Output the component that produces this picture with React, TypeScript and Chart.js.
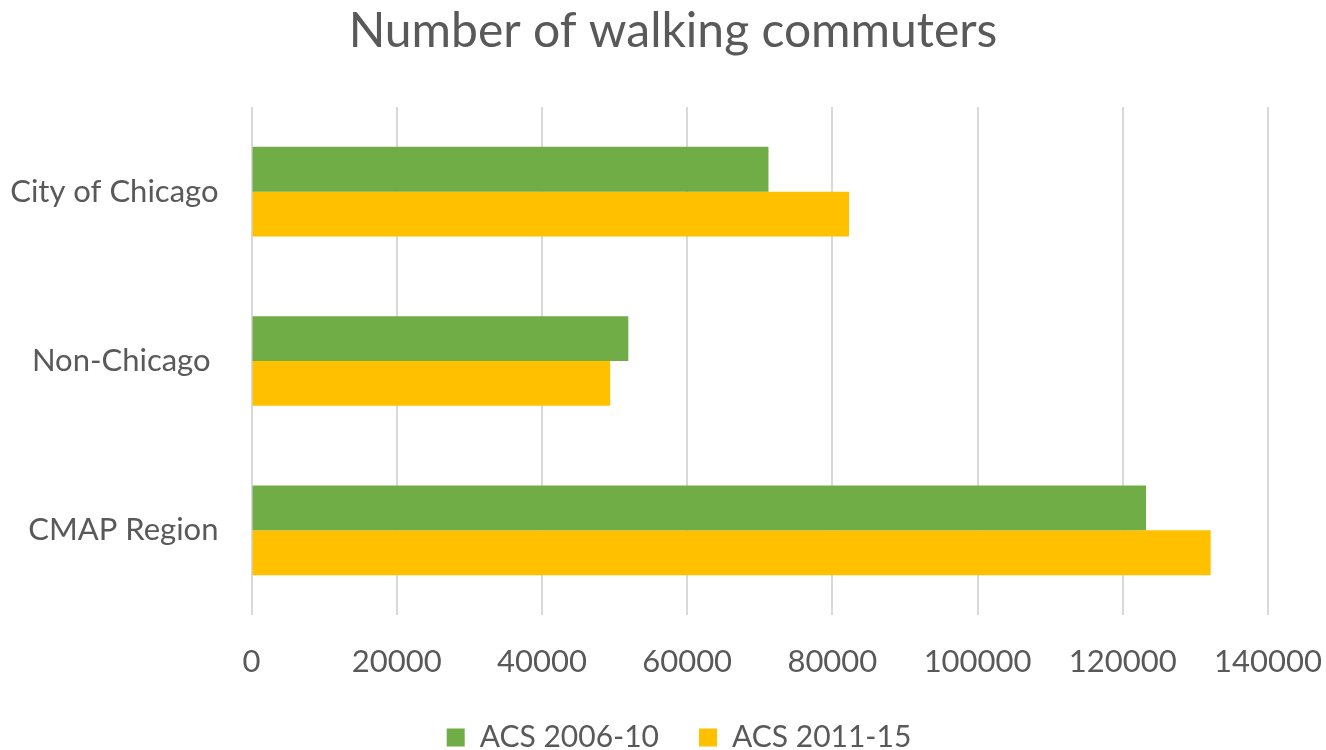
import React, { useEffect, useRef } from "react";
import { Chart, registerables } from "chart.js";

Chart.register(...registerables);

const chartTitle = "Number of walking commuters";
const categories = ["City of Chicago", "Non-Chicago ", "CMAP Region"];
const seriesNames = ["ACS 2006-10", "ACS 2011-15"];
const acs2006to10 = [71200, 51900, 123200];
const acs2011to15 = [82300, 49400, 132100];
const xMin = 0;
const xMax = 140000;
const xStep = 20000;

const GREEN = "#70AD47";
const YELLOW = "#FFC000";
const TEXT = "#595959";
const FONT = "Lato, 'Open Sans', sans-serif";

// shifts the full-width title and legend boxes so they are centred like the original
const blockShift = {
  id: "blockShift",
  afterLayout(chart: any) {
    const t = chart.titleBlock;
    if (t) {
      t.left += 10;
      t.right += 10;
    }
    const l = chart.legend;
    if (l) {
      l.left += 16;
      l.right += 16;
    }
  },
};

export default function App() {
  const ref = useRef<HTMLCanvasElement | null>(null);

  useEffect(() => {
    document.body.style.margin = "0";
    const canvas = ref.current;
    if (!canvas) return;
    const chart = new Chart(canvas, {
      type: "bar",
      data: {
        labels: categories,
        datasets: [
          {
            label: seriesNames[0],
            data: acs2006to10,
            backgroundColor: GREEN,
            borderWidth: 0,
            categoryPercentage: 0.53,
            barPercentage: 1.0,
          },
          {
            label: seriesNames[1],
            data: acs2011to15,
            backgroundColor: YELLOW,
            borderWidth: 0,
            categoryPercentage: 0.53,
            barPercentage: 1.0,
          },
        ],
      },
      plugins: [blockShift],
      options: {
        indexAxis: "y",
        animation: false,
        responsive: false,
        maintainAspectRatio: false,
        devicePixelRatio: 1,
        layout: { padding: { left: 0, right: 0, top: 0, bottom: -12.6 } },
        plugins: {
          title: {
            display: true,
            text: chartTitle,
            color: TEXT,
            font: { family: FONT, size: 48, weight: "normal", lineHeight: 1.2 },
            padding: { top: 3.2, bottom: 46.2 },
          },
          legend: {
            display: true,
            position: "bottom",
            labels: {
              color: TEXT,
              font: { family: FONT, size: 30 },
              boxWidth: 18,
              boxHeight: 18,
              padding: 40,
            },
          },
          tooltip: { enabled: false },
        },
        scales: {
          x: {
            type: "linear",
            min: xMin,
            max: xMax,
            ticks: {
              stepSize: xStep,
              color: TEXT,
              font: { family: FONT, size: 31 },
              padding: 28,
              maxRotation: 0,
              callback: (v: any) => String(v),
            },
            grid: { color: "#D9D9D9", lineWidth: 2, drawTicks: false },
            border: { display: false },
            afterFit: (s: any) => {
              s.height = 67.6;
              s.paddingLeft = 0;
              s.paddingRight = 58;
            },
          },
          y: {
            type: "category",
            ticks: {
              color: TEXT,
              font: { family: FONT, size: 31 },
              padding: 33,
            },
            grid: { display: false, drawTicks: false },
            border: { display: false },
            afterFit: (s: any) => {
              s.width = 251.5;
            },
          },
        },
      },
    });
    return () => chart.destroy();
  }, []);

  return (
    <div style={{ position: "fixed", left: 0, top: 0, width: 1326, height: 750, background: "#fff" }}>
      <canvas ref={ref} width={1326} height={750} style={{ width: 1326, height: 750, display: "block" }} />
    </div>
  );
}
